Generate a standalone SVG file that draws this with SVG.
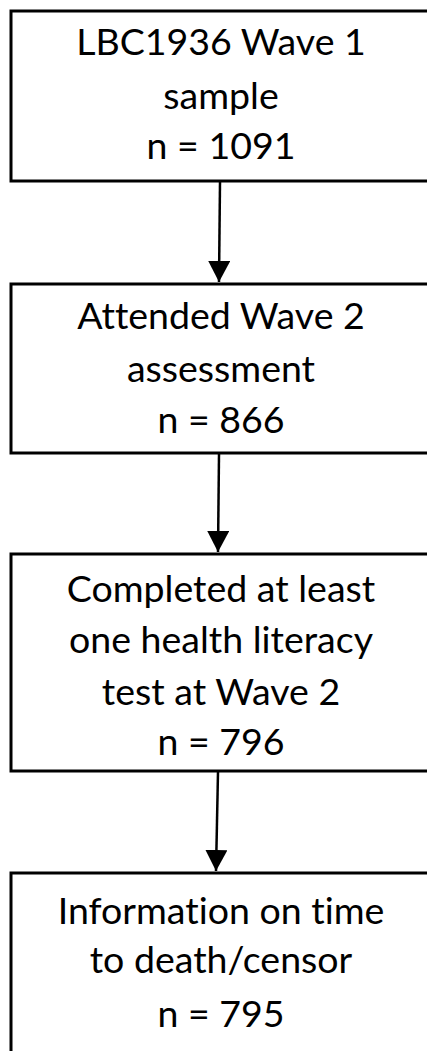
<svg xmlns="http://www.w3.org/2000/svg" width="427" height="1051" viewBox="0 0 427 1051">
<style>
.box{fill:#fff;stroke:#000;stroke-width:3}
.t{font-family:Lato,"Open Sans","Liberation Sans",sans-serif;font-size:37.5px;fill:#000;text-anchor:middle;font-variant-ligatures:none;font-feature-settings:"liga" 0}
.c{stroke:#000;stroke-width:2.5;fill:none}
</style>
<defs>
<marker id="ah" markerUnits="userSpaceOnUse" markerWidth="22" markerHeight="22" refX="21" refY="11" orient="auto">
<path d="M0,0 L21,11 L0,22 Z" fill="#000"/>
</marker>
</defs>
<rect width="427" height="1051" fill="#fff"/>
<g id="connectors">
<line class="c" x1="220" y1="182" x2="219" y2="282" marker-end="url(#ah)"/>
<line class="c" x1="219" y1="454" x2="218" y2="552" marker-end="url(#ah)"/>
<line class="c" x1="218" y1="772" x2="216" y2="871" marker-end="url(#ah)"/>
</g>
<g id="n1">
<rect class="box" x="11" y="11" width="440" height="170"/>
<text class="t" x="221" y="55">LBC1936 Wave 1</text>
<text class="t" x="221" y="109">sample</text>
<text class="t" x="221" y="159">n = 1091</text>
</g>
<g id="n2">
<rect class="box" x="11" y="284" width="440" height="169"/>
<text class="t" x="221" y="329">Attended Wave 2</text>
<text class="t" x="221" y="382">assessment</text>
<text class="t" x="221" y="433">n = 866</text>
</g>
<g id="n3">
<rect class="box" x="11" y="554" width="440" height="217"/>
<text class="t" x="221" y="602">Completed at least</text>
<text class="t" x="221" y="653">one health literacy</text>
<text class="t" x="221" y="705">test at Wave 2</text>
<text class="t" x="221" y="755">n = 796</text>
</g>
<g id="n4">
<rect class="box" x="11" y="873" width="440" height="200"/>
<text class="t" x="221" y="924">Information on time</text>
<text class="t" x="221" y="973">to death/censor</text>
<text class="t" x="221" y="1027">n = 795</text>
</g>
</svg>
